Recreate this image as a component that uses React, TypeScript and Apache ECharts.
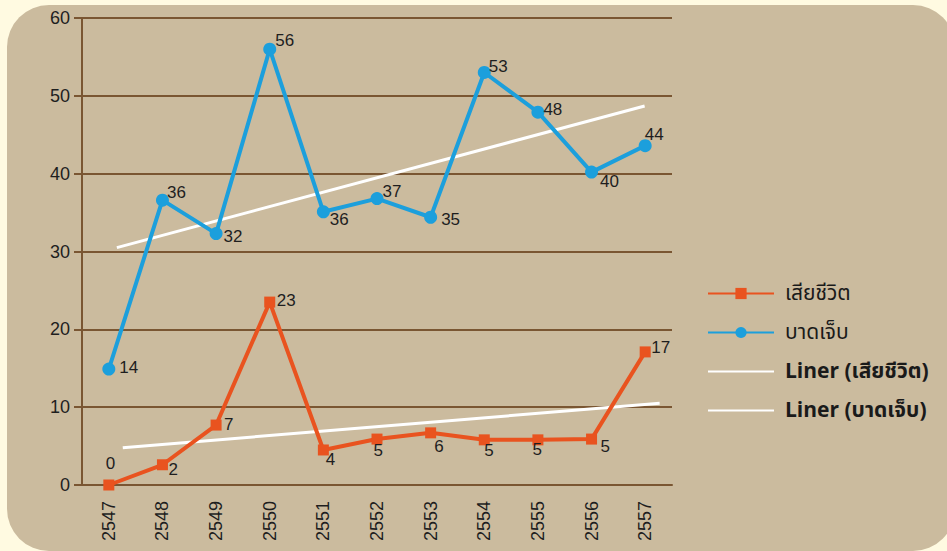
import React, { useEffect, useRef } from "react";
import * as echarts from "echarts";

const years = ["2547", "2548", "2549", "2550", "2551", "2552", "2553", "2554", "2555", "2556", "2557"];
const deathValues = [0, 2.6, 7.7, 23.5, 4.5, 5.9, 6.7, 5.8, 5.8, 5.9, 17.1];
const deathLabels = ["0", "2", "7", "23", "4", "5", "6", "5", "5", "5", "17"];
const injuryValues = [14.9, 36.6, 32.3, 56.0, 35.1, 36.8, 34.4, 53.0, 47.9, 40.2, 43.6];
const injuryLabels = ["14", "36", "32", "56", "36", "37", "35", "53", "48", "40", "44"];
// trend line endpoints: [category position, value]
const deathTrend = [[0.26, 4.8], [10.27, 10.5]];
const injuryTrend = [[0.15, 30.5], [9.99, 48.7]];
const yTicks = { min: 0, max: 60, interval: 10 };

const deathName = "เสียชีวิต";
const injuryName = "บาดเจ็บ";
const deathTrendName = "Liner (เสียชีวิต)";
const injuryTrendName = "Liner (บาดเจ็บ)";

// label offsets (pixels) for each point
const deathOffsets = [[-8.5, -22], [0.5, 5], [2.5, -1], [1.5, -2], [-3, 10], [-9, 11], [-2, 14], [-5.5, 11], [-11, 10], [3.5, 7], [0.5, -4]];
const injuryOffsets = [[4, -2], [-2, -8], [1, 3], [-1, -9], [0, 8], [-1, -7], [4, 2], [-2, -6], [-1, -3], [2, 9], [-7, -11]];

const FONT = "'Liberation Sans', Arial, 'Noto Sans Thai', 'Noto Sans', sans-serif";
const THAI_FONT = "'Noto Sans Thai', 'Noto Sans', 'DejaVu Sans', sans-serif";

export default function App() {
  const ref = useRef<HTMLDivElement>(null);
  useEffect(() => {
    if (!ref.current) return;
    const chart = echarts.init(ref.current, undefined, { renderer: "svg" });
    const labelStyle = { color: "#1e1e1e", fontSize: 17, fontFamily: FONT };
    const mkData = (vals: number[], labels: string[], offs: number[][]) =>
      vals.map((v, i) => ({
        value: v,
        label: { show: true, position: "right", distance: 0, offset: offs[i], formatter: labels[i], ...labelStyle },
      }));
    chart.setOption({
      animation: false,
      backgroundColor: "#fffae1",
      graphic: [
        {
          type: "rect",
          z: -10,
          silent: true,
          shape: { x: 7, y: 5, width: 948, height: 546, r: 42 },
          style: { fill: "#cbbb9e" },
        },
      ],
      grid: { left: 82, right: 275, top: 18, bottom: 66 },
      legend: {
        orient: "vertical",
        left: 702,
        top: 278,
        itemWidth: 66,
        itemHeight: 14,
        itemGap: 18,
        textStyle: { fontSize: 21, color: "#1a1a1a", fontFamily: THAI_FONT, padding: [0, 0, 0, 6] },
        data: [
          { name: deathName },
          { name: injuryName },
          { name: deathTrendName, itemStyle: { opacity: 0 }, textStyle: { fontWeight: "bold", fontSize: 21 } },
          { name: injuryTrendName, itemStyle: { opacity: 0 }, textStyle: { fontWeight: "bold", fontSize: 21 } },
        ],
      },
      xAxis: [
        {
          type: "category",
          data: years,
          boundaryGap: true,
          axisLine: { lineStyle: { color: "#7a5632", width: 2 } },
          axisTick: { alignWithLabel: true, length: 8, lineStyle: { color: "#7a5632", width: 2 } },
          axisLabel: { rotate: 90, fontSize: 18, color: "#1e1e1e", margin: 16, fontFamily: FONT },
        },
        {
          type: "value",
          min: -0.5,
          max: 10.5,
          show: false,
        },
      ],
      yAxis: {
        type: "value",
        min: yTicks.min,
        max: yTicks.max,
        interval: yTicks.interval,
        axisLine: { show: true, onZero: false, lineStyle: { color: "#7a5632", width: 2 } },
        axisTick: { show: true, length: 8, lineStyle: { color: "#7a5632", width: 2 } },
        splitLine: { lineStyle: { color: "#7a5632", width: 2 } },
        axisLabel: { fontSize: 18, color: "#1e1e1e", margin: 12, fontFamily: FONT },
      },
      series: [
        {
          name: deathTrendName,
          type: "line",
          xAxisIndex: 1,
          data: deathTrend,
          symbol: "none",
          lineStyle: { color: "#ffffff", width: 3 },
          itemStyle: { color: "#ffffff" },
          z: 1,
        },
        {
          name: injuryTrendName,
          type: "line",
          xAxisIndex: 1,
          data: injuryTrend,
          symbol: "none",
          lineStyle: { color: "#ffffff", width: 3 },
          itemStyle: { color: "#ffffff" },
          z: 1,
        },
        {
          name: deathName,
          type: "line",
          data: mkData(deathValues, deathLabels, deathOffsets),
          symbol: "rect",
          symbolSize: 11,
          lineStyle: { color: "#e9531f", width: 4 },
          itemStyle: { color: "#e9531f" },
          z: 3,
        },
        {
          name: injuryName,
          type: "line",
          data: mkData(injuryValues, injuryLabels, injuryOffsets),
          symbol: "circle",
          symbolSize: 13,
          lineStyle: { color: "#1c9fdc", width: 4 },
          itemStyle: { color: "#1c9fdc" },
          z: 3,
        },
      ],
    });
    return () => chart.dispose();
  }, []);
  return (
    <div
      ref={ref}
      style={{ position: "absolute", left: 0, top: 0, width: 947, height: 551 }}
    />
  );
}
